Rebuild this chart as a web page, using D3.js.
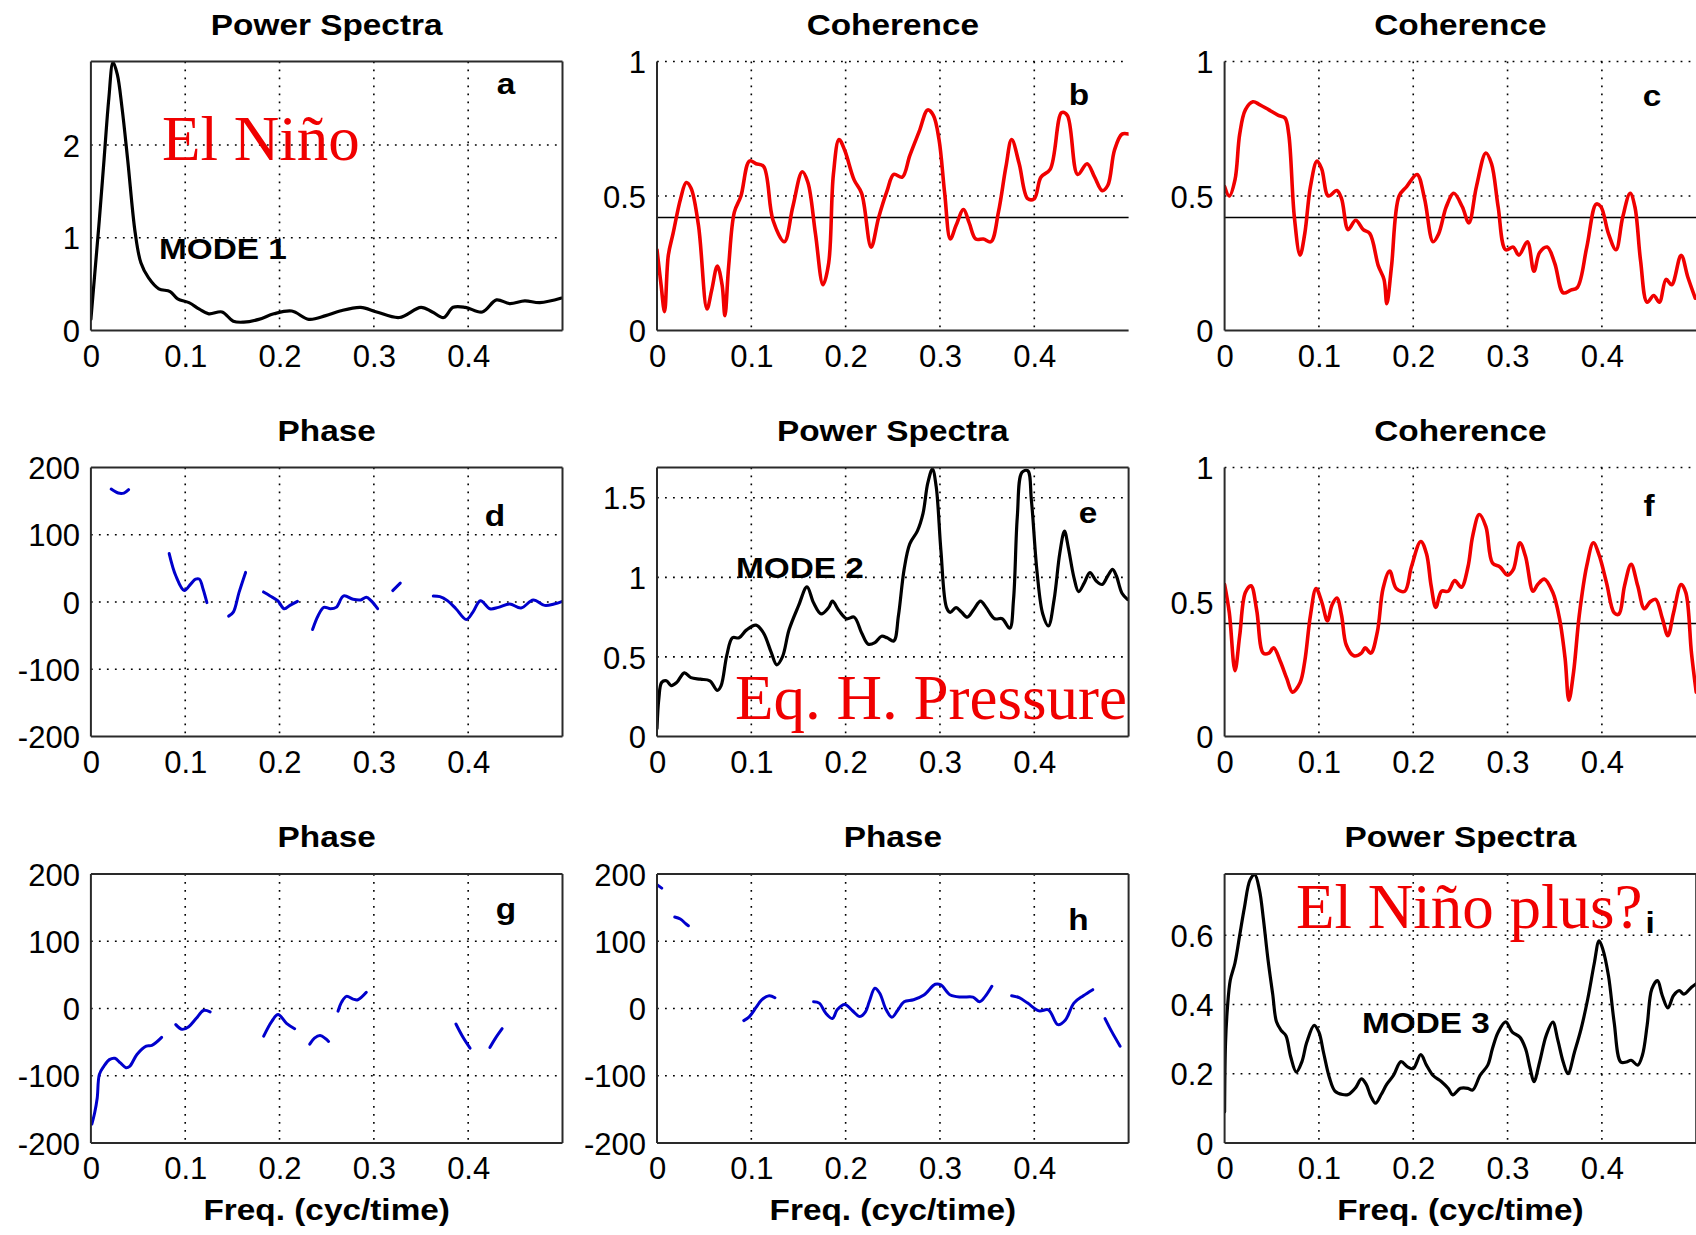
<!DOCTYPE html>
<html>
<head>
<meta charset="utf-8">
<script src="https://cdn.jsdelivr.net/npm/d3@7"></script>
<style>
  body { margin: 0; background: #fff; }
  svg { display: block; }
</style>
</head>
<body>
<svg id="fig" width="1696" height="1235"></svg>
<script>
// ---- tick values and labels ----
const tickFreq = [0, 0.1, 0.2, 0.3, 0.4];
const tickFreqLabels = ["0", "0.1", "0.2", "0.3", "0.4"];
const ticksCoh = [0, 0.5, 1];
const ticksCohLabels = ["0", "0.5", "1"];
const ticksPhase = [-200, -100, 0, 100, 200];
const ticksPhaseLabels = ["-200", "-100", "0", "100", "200"];
const ticksPowA = [0, 1, 2];
const ticksPowALabels = ["0", "1", "2"];
const ticksPowE = [0, 0.5, 1, 1.5];
const ticksPowELabels = ["0", "0.5", "1", "1.5"];
const ticksPowI = [0, 0.2, 0.4, 0.6];
const ticksPowILabels = ["0", "0.2", "0.4", "0.6"];
const sigLevel = 0.42;   // coherence significance level

// ---- series: [frequency, value] ----
const powerA = [[0,0.12],[0.004,0.6],[0.009,1.2],[0.014,1.85],[0.019,2.5],[0.0235,2.89],[0.028,2.76],[0.033,2.4],[0.039,1.84],[0.047,1.05],[0.053,0.73],[0.061,0.57],[0.072,0.45],[0.084,0.42],[0.092,0.34],[0.104,0.30],[0.115,0.23],[0.125,0.18],[0.139,0.20],[0.151,0.10],[0.162,0.09],[0.178,0.12],[0.194,0.18],[0.213,0.21],[0.231,0.12],[0.249,0.16],[0.264,0.21],[0.286,0.25],[0.303,0.20],[0.327,0.14],[0.35,0.25],[0.362,0.20],[0.374,0.14],[0.384,0.25],[0.397,0.25],[0.415,0.20],[0.43,0.33],[0.444,0.29],[0.46,0.32],[0.476,0.30],[0.499,0.35]];

const cohB = [[0,0.30],[0.0043,0.17],[0.008,0.07],[0.012,0.28],[0.017,0.36],[0.025,0.49],[0.031,0.55],[0.036,0.53],[0.044,0.39],[0.053,0.08],[0.058,0.15],[0.064,0.24],[0.069,0.17],[0.072,0.055],[0.076,0.24],[0.082,0.44],[0.089,0.50],[0.098,0.63],[0.105,0.62],[0.113,0.61],[0.123,0.41],[0.135,0.33],[0.144,0.46],[0.154,0.59],[0.16,0.55],[0.168,0.36],[0.176,0.17],[0.182,0.25],[0.187,0.58],[0.193,0.71],[0.199,0.67],[0.209,0.56],[0.217,0.51],[0.227,0.31],[0.235,0.42],[0.244,0.52],[0.251,0.58],[0.26,0.57],[0.268,0.65],[0.278,0.74],[0.287,0.82],[0.293,0.80],[0.299,0.71],[0.305,0.51],[0.311,0.34],[0.317,0.39],[0.325,0.45],[0.331,0.40],[0.338,0.34],[0.346,0.34],[0.354,0.33],[0.362,0.44],[0.37,0.61],[0.376,0.71],[0.384,0.62],[0.393,0.49],[0.4,0.49],[0.407,0.57],[0.417,0.60],[0.429,0.81],[0.435,0.80],[0.446,0.58],[0.456,0.62],[0.464,0.57],[0.472,0.52],[0.478,0.54],[0.485,0.67],[0.493,0.73],[0.5,0.73]];

const cohC = [[0,0.535],[0.005,0.50],[0.011,0.56],[0.016,0.73],[0.022,0.82],[0.030,0.85],[0.037,0.84],[0.047,0.82],[0.057,0.80],[0.064,0.79],[0.068,0.73],[0.074,0.42],[0.080,0.28],[0.085,0.36],[0.091,0.535],[0.098,0.63],[0.103,0.60],[0.110,0.50],[0.119,0.52],[0.124,0.49],[0.131,0.375],[0.139,0.41],[0.147,0.375],[0.154,0.36],[0.163,0.24],[0.169,0.19],[0.172,0.10],[0.177,0.24],[0.185,0.50],[0.193,0.535],[0.204,0.58],[0.212,0.49],[0.221,0.33],[0.227,0.36],[0.235,0.46],[0.243,0.51],[0.252,0.46],[0.259,0.40],[0.267,0.535],[0.277,0.66],[0.283,0.62],[0.290,0.46],[0.298,0.30],[0.306,0.31],[0.312,0.28],[0.321,0.33],[0.328,0.22],[0.334,0.29],[0.342,0.31],[0.35,0.25],[0.359,0.14],[0.367,0.15],[0.374,0.16],[0.384,0.31],[0.394,0.47],[0.399,0.46],[0.407,0.36],[0.415,0.30],[0.422,0.42],[0.43,0.51],[0.435,0.46],[0.441,0.26],[0.448,0.105],[0.455,0.13],[0.461,0.105],[0.468,0.19],[0.474,0.17],[0.484,0.28],[0.491,0.20],[0.499,0.12]];

const phaseD = [
  [[0.0215,168],[0.029,162],[0.035,162],[0.040,167]],
  [[0.083,72],[0.090,39],[0.099,17],[0.106,27],[0.111,34],[0.115,34],[0.119,19],[0.123,-1]],
  [[0.146,-21],[0.151,-15],[0.157,14],[0.164,44]],
  [[0.183,15],[0.190,9],[0.198,2],[0.205,-10],[0.211,-5],[0.219,1]],
  [[0.235,-41],[0.241,-20],[0.247,-8],[0.254,-10],[0.260,-8],[0.268,9],[0.278,4],[0.286,3],[0.292,7],[0.297,2],[0.304,-10]],
  [[0.320,17],[0.328,28]],
  [[0.363,9],[0.370,8],[0.378,2],[0.387,-10],[0.398,-26],[0.405,-15],[0.413,2],[0.423,-10],[0.432,-8],[0.444,-3],[0.456,-9],[0.469,3],[0.481,-5],[0.491,-3],[0.5,1]]
];

const powerE = [[0,0.05],[0.002,0.24],[0.005,0.34],[0.010,0.35],[0.015,0.32],[0.021,0.34],[0.029,0.40],[0.036,0.37],[0.046,0.36],[0.056,0.35],[0.064,0.29],[0.068,0.32],[0.074,0.51],[0.080,0.62],[0.087,0.62],[0.095,0.67],[0.105,0.70],[0.113,0.65],[0.121,0.53],[0.127,0.45],[0.133,0.50],[0.140,0.67],[0.150,0.82],[0.159,0.94],[0.166,0.84],[0.174,0.77],[0.182,0.81],[0.186,0.85],[0.193,0.79],[0.201,0.74],[0.209,0.75],[0.217,0.65],[0.224,0.58],[0.231,0.59],[0.238,0.63],[0.244,0.62],[0.251,0.60],[0.256,0.76],[0.262,1.05],[0.268,1.21],[0.276,1.29],[0.282,1.40],[0.287,1.59],[0.292,1.68],[0.296,1.57],[0.301,1.17],[0.307,0.81],[0.311,0.78],[0.317,0.81],[0.323,0.78],[0.329,0.75],[0.336,0.80],[0.343,0.85],[0.349,0.81],[0.358,0.74],[0.366,0.74],[0.374,0.68],[0.378,0.86],[0.382,1.38],[0.387,1.66],[0.393,1.67],[0.397,1.48],[0.403,1.03],[0.409,0.77],[0.415,0.695],[0.421,0.86],[0.427,1.15],[0.432,1.29],[0.436,1.19],[0.442,1.00],[0.447,0.91],[0.453,0.965],[0.459,1.03],[0.466,0.975],[0.472,0.955],[0.478,1.01],[0.483,1.05],[0.487,1.01],[0.493,0.90],[0.499,0.86]];

const cohF = [[0,0.565],[0.005,0.46],[0.011,0.245],[0.016,0.375],[0.022,0.535],[0.028,0.56],[0.034,0.47],[0.041,0.31],[0.047,0.31],[0.052,0.33],[0.059,0.28],[0.066,0.215],[0.072,0.165],[0.080,0.20],[0.085,0.28],[0.091,0.45],[0.097,0.55],[0.103,0.50],[0.109,0.43],[0.114,0.49],[0.119,0.515],[0.124,0.45],[0.129,0.34],[0.137,0.30],[0.145,0.31],[0.149,0.33],[0.155,0.31],[0.162,0.39],[0.168,0.55],[0.175,0.615],[0.182,0.55],[0.191,0.54],[0.198,0.63],[0.208,0.725],[0.214,0.68],[0.219,0.56],[0.224,0.48],[0.230,0.54],[0.237,0.54],[0.244,0.58],[0.251,0.555],[0.258,0.63],[0.263,0.745],[0.270,0.825],[0.277,0.78],[0.284,0.645],[0.292,0.63],[0.300,0.60],[0.306,0.62],[0.313,0.72],[0.319,0.67],[0.327,0.54],[0.332,0.565],[0.339,0.585],[0.348,0.535],[0.355,0.44],[0.361,0.29],[0.365,0.135],[0.370,0.24],[0.376,0.45],[0.384,0.635],[0.391,0.72],[0.397,0.675],[0.405,0.57],[0.413,0.46],[0.418,0.455],[0.424,0.56],[0.431,0.64],[0.438,0.56],[0.445,0.475],[0.451,0.50],[0.457,0.51],[0.464,0.44],[0.470,0.375],[0.476,0.46],[0.484,0.565],[0.489,0.535],[0.495,0.31],[0.5,0.165]];

const phaseG = [
  [[0.001,-172],[0.004,-155],[0.0067,-133],[0.009,-98],[0.0137,-86],[0.0196,-76],[0.0254,-74],[0.0313,-81],[0.0372,-88],[0.0411,-86],[0.049,-68],[0.0587,-56],[0.0646,-55],[0.075,-43]],
  [[0.090,-24],[0.0967,-31],[0.1037,-27],[0.1115,-15],[0.1194,-3],[0.1264,-5]],
  [[0.1832,-41],[0.1918,-19],[0.1984,-9],[0.2074,-22],[0.216,-30]],
  [[0.232,-53],[0.237,-44],[0.243,-40],[0.249,-45],[0.252,-49]],
  [[0.262,-4],[0.266,10],[0.271,18],[0.278,14],[0.283,13],[0.292,24]],
  [[0.387,-23],[0.395,-44],[0.402,-59]],
  [[0.423,-58],[0.429,-44],[0.436,-30]]
];

const phaseH = [
  [[0,184],[0.005,179]],
  [[0.0188,136],[0.0247,133],[0.0306,126],[0.0333,123]],
  [[0.092,-18],[0.098,-12],[0.105,1.5],[0.111,13],[0.119,19],[0.125,16]],
  [[0.166,10],[0.172,8],[0.179,-7],[0.186,-15],[0.191,-2],[0.199,6],[0.207,-3],[0.215,-12],[0.221,-5],[0.225,10],[0.231,30],[0.236,23],[0.243,-2],[0.249,-13],[0.255,-3],[0.262,10],[0.272,13],[0.283,20],[0.295,36],[0.301,35],[0.311,20],[0.323,17],[0.335,17],[0.342,10],[0.348,18],[0.355,33]],
  [[0.376,19],[0.384,16],[0.393,8],[0.405,-3.5],[0.415,-2],[0.425,-24],[0.433,-17],[0.442,8],[0.452,19],[0.462,28]],
  [[0.475,-15],[0.482,-34],[0.491,-56]]
];

const powerI = [[0,0.09],[0.001,0.29],[0.003,0.39],[0.006,0.47],[0.011,0.52],[0.016,0.60],[0.021,0.68],[0.027,0.76],[0.032,0.775],[0.037,0.73],[0.041,0.65],[0.046,0.53],[0.051,0.43],[0.055,0.35],[0.060,0.325],[0.065,0.31],[0.070,0.25],[0.076,0.205],[0.082,0.235],[0.087,0.29],[0.095,0.34],[0.100,0.32],[0.105,0.26],[0.111,0.19],[0.117,0.15],[0.125,0.14],[0.131,0.14],[0.139,0.16],[0.145,0.185],[0.150,0.17],[0.155,0.135],[0.160,0.115],[0.166,0.14],[0.172,0.17],[0.179,0.195],[0.187,0.235],[0.194,0.22],[0.200,0.215],[0.208,0.255],[0.214,0.225],[0.221,0.195],[0.230,0.177],[0.237,0.158],[0.242,0.139],[0.250,0.158],[0.258,0.158],[0.263,0.153],[0.271,0.196],[0.279,0.225],[0.284,0.273],[0.290,0.32],[0.298,0.35],[0.305,0.32],[0.313,0.306],[0.319,0.273],[0.324,0.215],[0.328,0.177],[0.334,0.234],[0.341,0.311],[0.348,0.349],[0.353,0.301],[0.359,0.234],[0.364,0.20],[0.371,0.263],[0.378,0.33],[0.385,0.416],[0.392,0.52],[0.397,0.584],[0.401,0.56],[0.407,0.483],[0.413,0.349],[0.420,0.234],[0.426,0.234],[0.431,0.239],[0.438,0.225],[0.443,0.254],[0.448,0.34],[0.453,0.445],[0.459,0.469],[0.464,0.426],[0.470,0.39],[0.476,0.426],[0.482,0.44],[0.487,0.43],[0.495,0.45],[0.5,0.46]];

// ---- layout ----
const PW = 471.6, PH = 269;
const colX = [90.9, 657, 1224.6];
const rowY = [61.5, 467.5, 874];
const sansFont = "'Liberation Sans', Arial, Helvetica, sans-serif";
const serifFont = "'Liberation Serif', 'Times New Roman', serif";
const RED = "#f00000", BLUE = "#0000cc", BLACK = "#000";
const BOLD_STRETCH = 1.15;

const panels = [
  {key: "a", col: 0, row: 0, title: "Power Spectra", yDomain: [0, 2.9], yTicks: ticksPowA, yLabels: ticksPowALabels,
   box: true, kind: "line", data: powerA, color: BLACK, lw: 3.2, letter: [415, 32.5]},
  {key: "b", col: 1, row: 0, title: "Coherence", yDomain: [0, 1], yTicks: ticksCoh, yLabels: ticksCohLabels,
   box: false, kind: "line", data: cohB, color: RED, lw: 3.6, sig: true, letter: [422, 43.5]},
  {key: "c", col: 2, row: 0, title: "Coherence", yDomain: [0, 1], yTicks: ticksCoh, yLabels: ticksCohLabels,
   box: false, kind: "line", data: cohC, color: RED, lw: 3.6, sig: true, letter: [427.5, 44.5]},
  {key: "d", col: 0, row: 1, title: "Phase", yDomain: [-200, 200], yTicks: ticksPhase, yLabels: ticksPhaseLabels,
   box: true, kind: "segments", data: phaseD, color: BLUE, lw: 3.0, letter: [404, 58.5]},
  {key: "e", col: 1, row: 1, title: "Power Spectra", yDomain: [0, 1.69], yTicks: ticksPowE, yLabels: ticksPowELabels,
   box: true, kind: "line", data: powerE, color: BLACK, lw: 3.2, letter: [431, 55]},
  {key: "f", col: 2, row: 1, title: "Coherence", yDomain: [0, 1], yTicks: ticksCoh, yLabels: ticksCohLabels,
   box: false, kind: "line", data: cohF, color: RED, lw: 3.6, sig: true, letter: [424.5, 48.5]},
  {key: "g", col: 0, row: 2, title: "Phase", yDomain: [-200, 200], yTicks: ticksPhase, yLabels: ticksPhaseLabels,
   box: true, kind: "segments", data: phaseG, color: BLUE, lw: 3.0, letter: [415, 45], xlabel: true},
  {key: "h", col: 1, row: 2, title: "Phase", yDomain: [-200, 200], yTicks: ticksPhase, yLabels: ticksPhaseLabels,
   box: true, kind: "segments", data: phaseH, color: BLUE, lw: 3.0, letter: [421.5, 56], xlabel: true},
  {key: "i", col: 2, row: 2, title: "Power Spectra", yDomain: [0, 0.777], yTicks: ticksPowI, yLabels: ticksPowILabels,
   box: true, kind: "line", data: powerI, color: BLACK, lw: 3.2, letter: [425.5, 58.5], xlabel: true}
];

const svg = d3.select("#fig");
svg.append("rect").attr("width", 1696).attr("height", 1235).attr("fill", "#fff");

function boldText(sel, x, y, str, anchor) {
  return sel.append("text")
    .attr("transform", `translate(${x},${y}) scale(${BOLD_STRETCH},1)`)
    .attr("text-anchor", anchor || "middle")
    .style("font-family", sansFont).style("font-weight", "bold")
    .style("font-size", "29px").attr("fill", "#000")
    .text(str);
}

panels.forEach(p => {
  const x0 = colX[p.col], y0 = rowY[p.row];
  const g = svg.append("g").attr("transform", `translate(${x0},${y0})`);
  const x = d3.scaleLinear().domain([0, 0.5]).range([0, PW]);
  const y = d3.scaleLinear().domain(p.yDomain).range([PH, 0]);

  // dotted grid
  const grid = g.append("g").attr("stroke", "#000").attr("stroke-width", 1.6)
    .attr("stroke-dasharray", "1.8,6.2");
  tickFreq.filter(t => t > 0).forEach(t => {
    grid.append("line").attr("x1", x(t)).attr("x2", x(t)).attr("y1", 0).attr("y2", PH);
  });
  p.yTicks.filter(t => t > p.yDomain[0] && (p.box ? t < p.yDomain[1] : true)).forEach(t => {
    grid.append("line").attr("x1", 0).attr("x2", PW).attr("y1", y(t)).attr("y2", y(t));
  });

  // significance level
  if (p.sig) {
    g.append("line").attr("x1", 0).attr("x2", PW).attr("y1", y(sigLevel)).attr("y2", y(sigLevel))
      .attr("stroke", "#000").attr("stroke-width", 1.5);
  }

  // data
  const clipId = "clip-" + p.key;
  g.append("clipPath").attr("id", clipId).append("rect")
    .attr("x", 0).attr("y", -1).attr("width", PW).attr("height", PH + 1);
  const line = d3.line().x(d => x(d[0])).y(d => y(d[1])).curve(d3.curveCatmullRom.alpha(0.5));
  const plot = g.append("g").attr("clip-path", `url(#${clipId})`);
  const segs = p.kind === "segments" ? p.data : [p.data];
  segs.forEach(s => {
    plot.append("path").attr("d", line(s)).attr("fill", "none")
      .attr("stroke", p.color).attr("stroke-width", p.lw)
      .attr("stroke-linejoin", "round").attr("stroke-linecap", "round");
  });

  // frame
  const frame = g.append("g").attr("stroke", "#2a2a2a").attr("stroke-width", 2).attr("fill", "none");
  frame.append("line").attr("x1", 0).attr("x2", 0).attr("y1", 0).attr("y2", PH);
  frame.append("line").attr("x1", 0).attr("x2", PW).attr("y1", PH).attr("y2", PH);
  if (p.box) {
    frame.append("line").attr("x1", 0).attr("x2", PW).attr("y1", 0).attr("y2", 0);
    frame.append("line").attr("x1", PW).attr("x2", PW).attr("y1", 0).attr("y2", PH);
  }

  // axes labels
  const xAxis = d3.axisBottom(x).tickValues(tickFreq).tickFormat((d, i) => tickFreqLabels[i])
    .tickSize(0).tickPadding(0);
  const gx = g.append("g").attr("transform", `translate(0,${PH})`).call(xAxis);
  gx.select(".domain").remove();
  gx.selectAll("text").attr("y", 36).attr("dy", null)
    .style("font-family", sansFont).style("font-size", "31px").attr("fill", "#000");

  const yAxis = d3.axisLeft(y).tickValues(p.yTicks).tickFormat((d, i) => p.yLabels[i])
    .tickSize(0).tickPadding(11);
  const gy = g.append("g").call(yAxis);
  gy.select(".domain").remove();
  gy.selectAll("text").attr("dy", "0.36em")
    .style("font-family", sansFont).style("font-size", "31px").attr("fill", "#000");

  // title, panel letter, x label
  boldText(g, PW / 2, -27, p.title, "middle");
  boldText(g, p.letter[0], p.letter[1], p.key, "middle");
  if (p.xlabel) boldText(g, PW / 2, 1220 - y0, "Freq. (cyc/time)", "middle");
});

// mode labels
boldText(svg, 159, 259, "MODE 1", "start");
boldText(svg, 736, 578, "MODE 2", "start");
boldText(svg, 1362, 1033, "MODE 3", "start");

// red annotations
function redText(x, y, str) {
  svg.append("text").attr("x", x).attr("y", y)
    .style("font-family", serifFont).style("font-size", "63px").attr("fill", RED)
    .text(str);
}
redText(162, 160, "El Niño");
redText(735, 719, "Eq. H. Pressure");
redText(1296, 928, "El Niño plus?");
</script>
</body>
</html>
